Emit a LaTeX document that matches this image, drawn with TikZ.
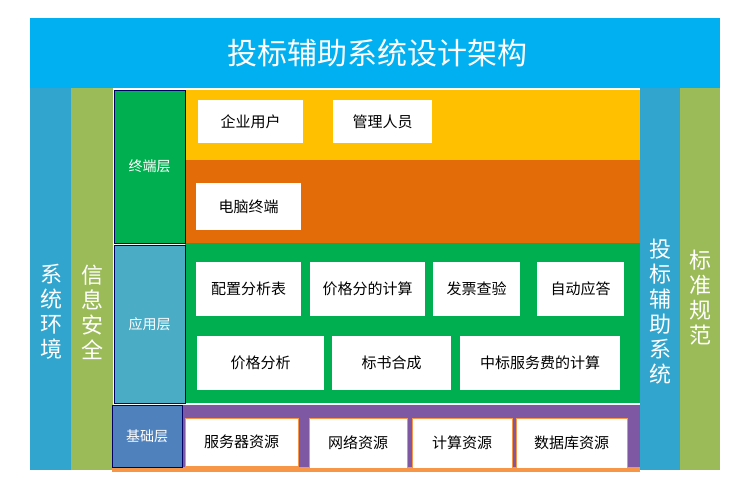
\documentclass[tikz,border=0pt]{standalone}
\usepackage{fontspec}
\setmainfont{Noto Sans CJK SC}
\definecolor{titleblue}{RGB}{0,176,240}
\definecolor{sideblue}{RGB}{49,165,206}
\definecolor{sidegreen}{RGB}{155,187,89}
\definecolor{termgreen}{RGB}{0,176,80}
\definecolor{appblue}{RGB}{75,172,198}
\definecolor{basblue}{RGB}{79,129,189}
\definecolor{bandyellow}{RGB}{255,192,0}
\definecolor{bandorange}{RGB}{227,108,9}
\definecolor{bandpurple}{RGB}{126,88,162}
\definecolor{edgeorange}{RGB}{247,150,70}
\tikzset{
  band/.style={draw=none,inner sep=0pt,anchor=north west},
  layer/.style={draw=blue!40!black,inner sep=0pt,anchor=north west,text=white,font=\fontsize{14}{16}\selectfont},
  item/.style={fill=white,inner sep=0pt,anchor=north west,font=\fontsize{15}{17}\selectfont},
  vtext/.style={text=white,font=\fontsize{22}{25}\selectfont,align=center}
}
\begin{document}
\begin{tikzpicture}[x=1pt,y=-1pt]
\useasboundingbox (0,0) rectangle (750,490);
% outer frame
\fill[titleblue] (30,18) rectangle (720,88);
\node[text=white,font=\fontsize{30}{34}\selectfont] (title) at (377,53) {投标辅助系统设计架构};
\fill[sideblue] (30,88) rectangle (71,470);
\fill[sidegreen] (71,88) rectangle (113,470);
\fill[sideblue] (640,88) rectangle (680,470);
\fill[sidegreen] (680,88) rectangle (720,470);
\node[vtext] (env) at (51,312) {系\\统\\环\\境};
\node[vtext] (sec) at (92,312) {信\\息\\安\\全};
\node[vtext] (sys) at (660,312) {投\\标\\辅\\助\\系\\统};
\node[vtext] (std) at (700,298) {标\\准\\规\\范};
% bands
\fill[bandyellow] (185,90) rectangle (640,160);
\fill[bandorange] (185,160) rectangle (640,243);
\fill[termgreen] (185,243) rectangle (640,403);
\fill[edgeorange] (112,466) rectangle (640,472);
\fill[bandpurple] (182,405) rectangle (640,467);
% layers
\node[layer,fill=termgreen,minimum width=71,minimum height=153] (term) at (114,90) {终端层};
\node[layer,fill=appblue,minimum width=71,minimum height=158] (app) at (114,245) {应用层};
\node[layer,fill=basblue,minimum width=70,minimum height=62] (base) at (112,405) {基础层};
% terminal items
\node[item,minimum width=105,minimum height=43] (user) at (198,100) {企业用户};
\node[item,minimum width=99,minimum height=43] (admin) at (333,100) {管理人员};
\node[item,minimum width=105,minimum height=47] (pc) at (196,183) {电脑终端};
% application items
\node[item,minimum width=105,minimum height=54] (cfg) at (196,262) {配置分析表};
\node[item,minimum width=115,minimum height=54] (calc) at (310,262) {价格分的计算};
\node[item,minimum width=87,minimum height=54] (inv) at (433,262) {发票查验};
\node[item,minimum width=87,minimum height=54] (auto) at (537,262) {自动应答};
\node[item,minimum width=127,minimum height=54] (price) at (197,336) {价格分析};
\node[item,minimum width=119,minimum height=54] (bid) at (332,336) {标书合成};
\node[item,minimum width=160,minimum height=54] (fee) at (460,336) {中标服务费的计算};
% base items
\node[item,draw=edgeorange,minimum width=113,minimum height=48] (srv) at (185,418) {服务器资源};
\node[item,draw=edgeorange,minimum width=98,minimum height=50] (net) at (309,418) {网络资源};
\node[item,draw=edgeorange,minimum width=100,minimum height=50] (cpu) at (412,418) {计算资源};
\node[item,draw=edgeorange,minimum width=111,minimum height=50] (db) at (516,418) {数据库资源};
\end{tikzpicture}
\end{document}
